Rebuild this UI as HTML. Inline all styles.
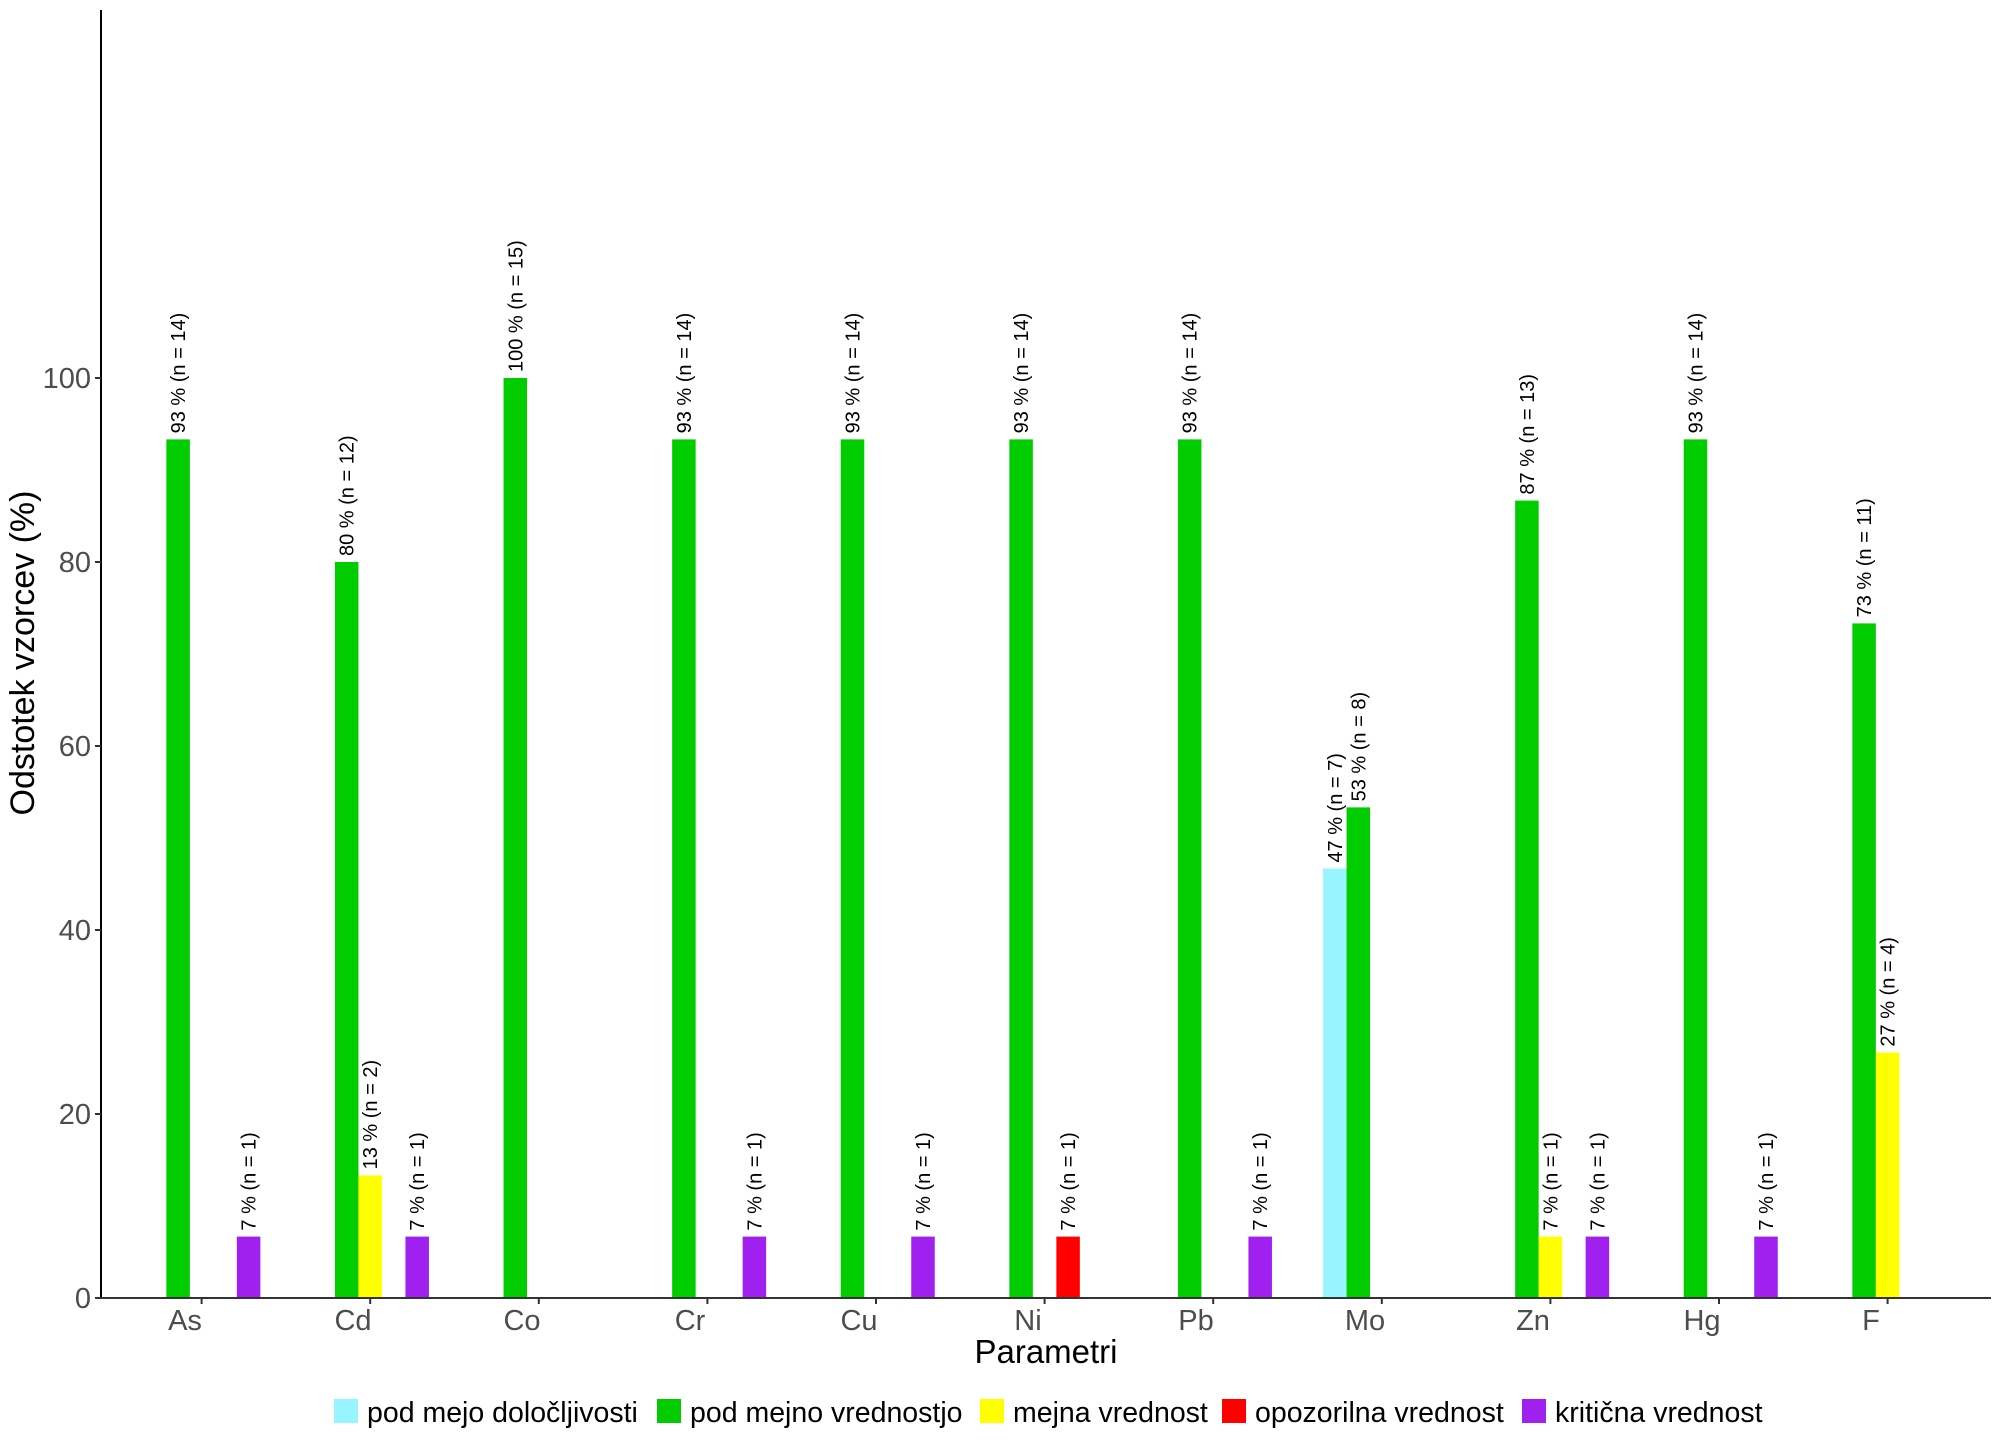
<!DOCTYPE html>
<html><head><meta charset="utf-8"><style>html,body{margin:0;padding:0;background:#fff}svg{display:block}</style></head>
<body>
<svg width="2000" height="1444" viewBox="0 0 2000 1444" xmlns="http://www.w3.org/2000/svg" font-family="Liberation Sans, Arial, sans-serif">
<rect width="2000" height="1444" fill="#fff"/>
<g>
<rect x="166.35" y="439.4" width="23.5" height="858.6" fill="#00CC00"/>
<rect x="236.85" y="1236.6" width="23.5" height="61.4" fill="#A020F0"/>
<rect x="334.95" y="562" width="23.5" height="736" fill="#00CC00"/>
<rect x="358.45" y="1175.4" width="23.5" height="122.6" fill="#FFFF00"/>
<rect x="405.45" y="1236.6" width="23.5" height="61.4" fill="#A020F0"/>
<rect x="503.55" y="378" width="23.5" height="920" fill="#00CC00"/>
<rect x="672.15" y="439.4" width="23.5" height="858.6" fill="#00CC00"/>
<rect x="742.65" y="1236.6" width="23.5" height="61.4" fill="#A020F0"/>
<rect x="840.75" y="439.4" width="23.5" height="858.6" fill="#00CC00"/>
<rect x="911.25" y="1236.6" width="23.5" height="61.4" fill="#A020F0"/>
<rect x="1009.35" y="439.4" width="23.5" height="858.6" fill="#00CC00"/>
<rect x="1056.35" y="1236.6" width="23.5" height="61.4" fill="#FF0000"/>
<rect x="1177.95" y="439.4" width="23.5" height="858.6" fill="#00CC00"/>
<rect x="1248.45" y="1236.6" width="23.5" height="61.4" fill="#A020F0"/>
<rect x="1323.05" y="868.6" width="23.5" height="429.4" fill="#98F5FF"/>
<rect x="1346.55" y="807.4" width="23.5" height="490.6" fill="#00CC00"/>
<rect x="1515.15" y="500.6" width="23.5" height="797.4" fill="#00CC00"/>
<rect x="1538.65" y="1236.6" width="23.5" height="61.4" fill="#FFFF00"/>
<rect x="1585.65" y="1236.6" width="23.5" height="61.4" fill="#A020F0"/>
<rect x="1683.75" y="439.4" width="23.5" height="858.6" fill="#00CC00"/>
<rect x="1754.25" y="1236.6" width="23.5" height="61.4" fill="#A020F0"/>
<rect x="1852.35" y="623.4" width="23.5" height="674.6" fill="#00CC00"/>
<rect x="1875.85" y="1052.6" width="23.5" height="245.4" fill="#FFFF00"/>
</g>
<g font-size="20" fill="#000">
<text transform="translate(185.1,433.4) rotate(-90)">93 % (n = 14)</text>
<text transform="translate(255.6,1230.6) rotate(-90)">7 % (n = 1)</text>
<text transform="translate(353.7,556) rotate(-90)">80 % (n = 12)</text>
<text transform="translate(377.2,1169.4) rotate(-90)">13 % (n = 2)</text>
<text transform="translate(424.2,1230.6) rotate(-90)">7 % (n = 1)</text>
<text transform="translate(522.3,372) rotate(-90)">100 % (n = 15)</text>
<text transform="translate(690.9,433.4) rotate(-90)">93 % (n = 14)</text>
<text transform="translate(761.4,1230.6) rotate(-90)">7 % (n = 1)</text>
<text transform="translate(859.5,433.4) rotate(-90)">93 % (n = 14)</text>
<text transform="translate(930,1230.6) rotate(-90)">7 % (n = 1)</text>
<text transform="translate(1028.1,433.4) rotate(-90)">93 % (n = 14)</text>
<text transform="translate(1075.1,1230.6) rotate(-90)">7 % (n = 1)</text>
<text transform="translate(1196.7,433.4) rotate(-90)">93 % (n = 14)</text>
<text transform="translate(1267.2,1230.6) rotate(-90)">7 % (n = 1)</text>
<text transform="translate(1341.8,862.6) rotate(-90)">47 % (n = 7)</text>
<text transform="translate(1365.3,801.4) rotate(-90)">53 % (n = 8)</text>
<text transform="translate(1533.9,494.6) rotate(-90)">87 % (n = 13)</text>
<text transform="translate(1557.4,1230.6) rotate(-90)">7 % (n = 1)</text>
<text transform="translate(1604.4,1230.6) rotate(-90)">7 % (n = 1)</text>
<text transform="translate(1702.5,433.4) rotate(-90)">93 % (n = 14)</text>
<text transform="translate(1773,1230.6) rotate(-90)">7 % (n = 1)</text>
<text transform="translate(1871.1,617.4) rotate(-90)">73 % (n = 11)</text>
<text transform="translate(1894.6,1046.6) rotate(-90)">27 % (n = 4)</text>
</g>
<line x1="101" y1="10" x2="101" y2="1298" stroke="#000" stroke-width="2"/>
<line x1="100" y1="1298" x2="1991" y2="1298" stroke="#333" stroke-width="2"/>
<g stroke="#333" stroke-width="2">
<line x1="95" y1="1298" x2="101" y2="1298"/><line x1="95" y1="1114" x2="101" y2="1114"/><line x1="95" y1="930" x2="101" y2="930"/><line x1="95" y1="746" x2="101" y2="746"/><line x1="95" y1="562" x2="101" y2="562"/><line x1="95" y1="378" x2="101" y2="378"/>
<line x1="201.6" y1="1298" x2="201.6" y2="1304"/><line x1="370.2" y1="1298" x2="370.2" y2="1304"/><line x1="538.8" y1="1298" x2="538.8" y2="1304"/><line x1="707.4" y1="1298" x2="707.4" y2="1304"/><line x1="876" y1="1298" x2="876" y2="1304"/><line x1="1044.6" y1="1298" x2="1044.6" y2="1304"/><line x1="1213.2" y1="1298" x2="1213.2" y2="1304"/><line x1="1381.8" y1="1298" x2="1381.8" y2="1304"/><line x1="1550.4" y1="1298" x2="1550.4" y2="1304"/><line x1="1719" y1="1298" x2="1719" y2="1304"/><line x1="1887.6" y1="1298" x2="1887.6" y2="1304"/>
</g>
<g font-size="29" fill="#4d4d4d" text-anchor="end">
<text x="91" y="1308">0</text><text x="91" y="1124">20</text><text x="91" y="940">40</text><text x="91" y="756">60</text><text x="91" y="572">80</text><text x="91" y="388">100</text>
</g>
<g font-size="29" fill="#4d4d4d" text-anchor="middle">
<text x="185" y="1330">As</text><text x="353" y="1330">Cd</text><text x="522" y="1330">Co</text><text x="690" y="1330">Cr</text><text x="859" y="1330">Cu</text><text x="1028" y="1330">Ni</text><text x="1196" y="1330">Pb</text><text x="1365" y="1330">Mo</text><text x="1533" y="1330">Zn</text><text x="1702" y="1330">Hg</text><text x="1871" y="1330">F</text>
</g>
<text x="1046" y="1363" font-size="33" text-anchor="middle" fill="#000">Parametri</text>
<text transform="translate(34,653) rotate(-90)" font-size="34" text-anchor="middle" fill="#000">Odstotek vzorcev (%)</text>
<g font-size="28.5" fill="#000">
<rect x="334" y="1399" width="24" height="24" fill="#98F5FF"/><text x="367" y="1422">pod mejo določljivosti</text>
<rect x="657" y="1399" width="24" height="24" fill="#00CC00"/><text x="690" y="1422">pod mejno vrednostjo</text>
<rect x="980" y="1399" width="24" height="24" fill="#FFFF00"/><text x="1013" y="1422">mejna vrednost</text>
<rect x="1222" y="1399" width="24" height="24" fill="#FF0000"/><text x="1255" y="1422">opozorilna vrednost</text>
<rect x="1522" y="1399" width="24" height="24" fill="#A020F0"/><text x="1555" y="1422">kritična vrednost</text>
</g>
</svg>
</body></html>
